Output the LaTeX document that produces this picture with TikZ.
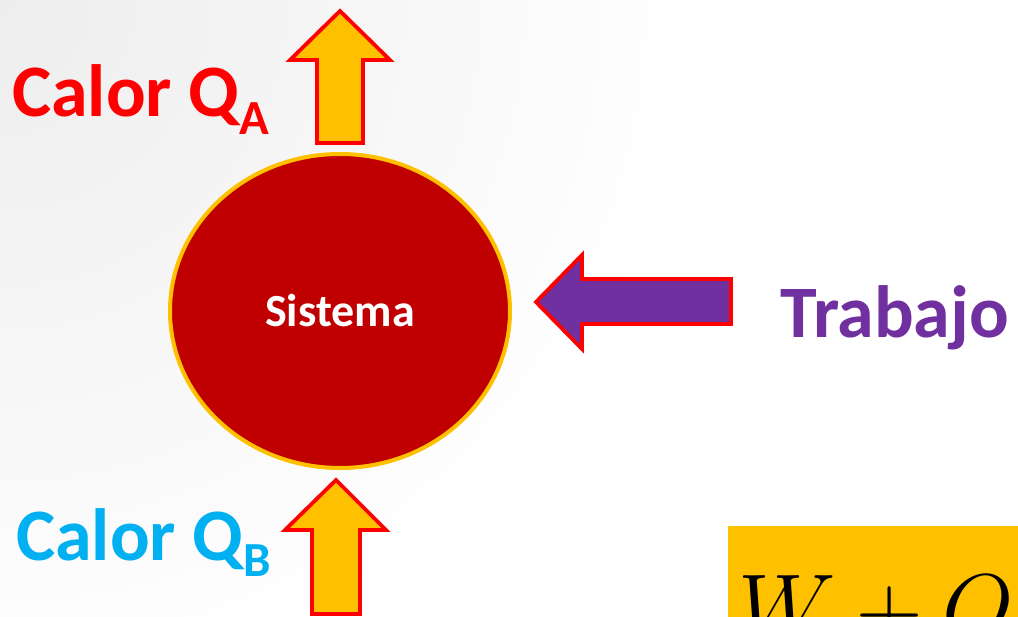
\documentclass[tikz,border=0pt]{standalone}
\usepackage{fix-cm}
\usepackage{fontspec}
\setmainfont{Carlito}
\usepackage{xcolor}
\usetikzlibrary{shapes.geometric,positioning}

\definecolor{sysred}{HTML}{C00000}
\definecolor{gold}{HTML}{FFC000}
\definecolor{heatred}{HTML}{FF0000}
\definecolor{workpurple}{HTML}{7030A0}
\definecolor{heatblue}{HTML}{00B0F0}

\begin{document}
\begin{tikzpicture}[
			x=1pt,
			y=-1pt,
			system/.style={
				ellipse,
				draw=gold,
				fill=sysred,
				line width=4pt,
				minimum width=340,
				minimum height=314,
				inner sep=0pt,
				text=white,
				font=\bfseries\fontsize{46}{50}\selectfont
			},
			blockarrow/.style={
				draw=heatred,
				line width=3.8pt,
				line join=miter
			},
			biglabel/.style={
				anchor=base west,
				inner sep=0pt,
				font=\bfseries\fontsize{74}{80}\selectfont
			}
			]
			
			\clip (0,0) rectangle (1018,617);
			\fill[white] (0,0) rectangle (1018,617);
			\shade[inner color=black!7, outer color=white] (0,0) circle (700);
			
			%=====================================================================
			% System
			%=====================================================================
			
			\node[system] (sys) at (340,311) {Sistema};
			
			%=====================================================================
			% Heat and work arrows
			%=====================================================================
			
			\draw[blockarrow, fill=gold]
			(317,143) -- (317,60) -- (290,60) -- (340,11)
			-- (390,60) -- (363,60) -- (363,143) -- cycle;
			
			\draw[blockarrow, fill=gold]
			(312,614) -- (312,530) -- (285,530) -- (336,480)
			-- (386,530) -- (360,530) -- (360,614) -- cycle;
			
			\draw[blockarrow, fill=workpurple]
			(731,279) -- (582,279) -- (582,255) -- (536,302)
			-- (582,349) -- (582,324) -- (731,324) -- cycle;
			
			%=====================================================================
			% Labels
			%=====================================================================
			
			\node[biglabel, text=heatred] (qa) at (12,117)
			{Calor Q\raisebox{-18pt}{\fontsize{49}{52}\selectfont A}};
			
			\node[biglabel, text=heatblue] (qb) at (16,560)
			{Calor Q\raisebox{-16pt}{\fontsize{49}{52}\selectfont B}};
			
			\node[biglabel, text=workpurple] (work) at (780,338) {Trabajo};
			
			%=====================================================================
			% Balance
			%=====================================================================
			
			\fill[gold] (728,526) rectangle (1018,617);
			
			\node[
			anchor=base west,
			inner sep=0pt,
			font=\fontsize{92}{100}\selectfont
			] (balance) at (738,638) {$W+Q$};
			
		\end{tikzpicture}
\end{document}
